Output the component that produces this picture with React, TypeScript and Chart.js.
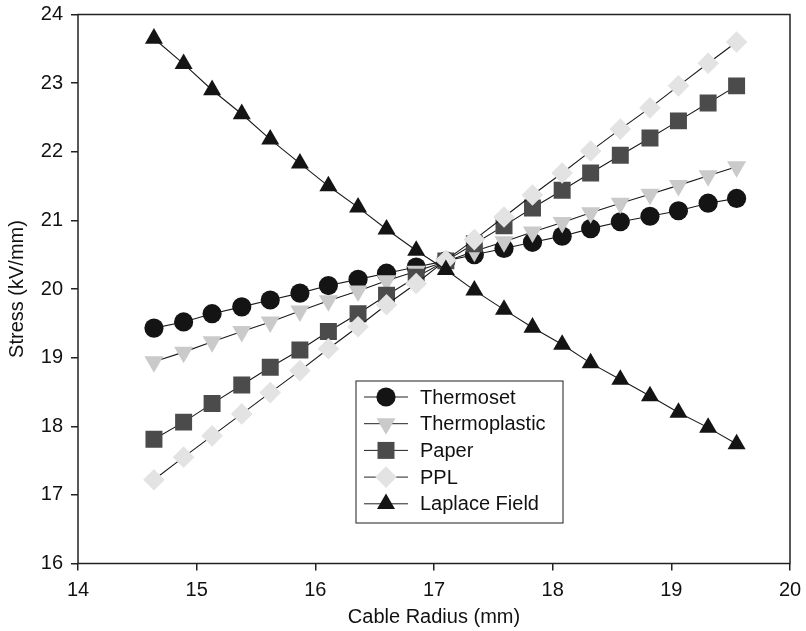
import React, { useEffect, useRef } from 'react';
import { Chart, registerables } from 'chart.js';
import { drawPoint } from 'chart.js/helpers';

Chart.register(...registerables);

const radius = [14.64, 14.89, 15.13, 15.38, 15.62, 15.87, 16.11, 16.36, 16.6, 16.85, 17.1, 17.34, 17.59, 17.83, 18.08, 18.32, 18.57, 18.82, 19.06, 19.31, 19.55];
const thermoset = [19.43, 19.52, 19.64, 19.74, 19.84, 19.94, 20.05, 20.14, 20.23, 20.32, 20.41, 20.5, 20.59, 20.68, 20.77, 20.88, 20.98, 21.06, 21.14, 21.25, 21.32];
const thermoplastic = [18.94, 19.08, 19.23, 19.38, 19.52, 19.68, 19.83, 19.97, 20.12, 20.26, 20.4, 20.55, 20.69, 20.83, 20.97, 21.11, 21.25, 21.38, 21.51, 21.65, 21.78];
const paper = [17.81, 18.06, 18.33, 18.6, 18.86, 19.11, 19.38, 19.64, 19.91, 20.17, 20.41, 20.66, 20.92, 21.18, 21.44, 21.69, 21.95, 22.2, 22.45, 22.71, 22.96];
const ppl = [17.22, 17.55, 17.86, 18.18, 18.49, 18.81, 19.13, 19.45, 19.77, 20.08, 20.42, 20.72, 21.05, 21.37, 21.69, 22.01, 22.33, 22.64, 22.96, 23.29, 23.6];
const laplace = [23.65, 23.28, 22.9, 22.55, 22.18, 21.83, 21.5, 21.19, 20.87, 20.56, 20.28, 19.98, 19.7, 19.44, 19.19, 18.92, 18.68, 18.44, 18.2, 17.98, 17.74];

const seriesLabels = ['Thermoset', 'Thermoplastic', 'Paper', 'PPL', 'Laplace Field'];
const seriesValues = [thermoset, thermoplastic, paper, ppl, laplace];
const seriesColors = ['#141414', '#c9cac9', '#4b4b4b', '#e3e3e3', '#141414'];
const seriesStyles = ['circle', 'triangle', 'rect', 'rectRot', 'triangle'];
const seriesRotation = [0, 180, 0, 0, 0];
const seriesRadius = [9.6, 11, 12, 10.8, 10.4];

const xTitle = 'Cable Radius (mm)';
const yTitle = 'Stress (kV/mm)';
const FONT = "'Liberation Sans', Arial, Helvetica, sans-serif";

const framePlugin = {
  id: 'frame',
  afterDatasetsDraw(chart: any) {
    const { ctx, chartArea } = chart;
    ctx.save();
    ctx.strokeStyle = '#222';
    ctx.lineWidth = 1.5;
    ctx.strokeRect(chartArea.left, chartArea.top, chartArea.right - chartArea.left, chartArea.bottom - chartArea.top);
    ctx.restore();
  },
};

const legendPlugin = {
  id: 'boxLegend',
  afterDraw(chart: any) {
    const { ctx } = chart;
    const bx = 356, by = 381, bw = 207, bh = 142;
    ctx.save();
    ctx.fillStyle = '#fff';
    ctx.fillRect(bx, by, bw, bh);
    ctx.strokeStyle = '#444';
    ctx.lineWidth = 1.2;
    ctx.strokeRect(bx, by, bw, bh);
    chart.data.datasets.forEach((ds: any, i: number) => {
      const y = 397 + i * 26.7;
      ctx.strokeStyle = '#222';
      ctx.lineWidth = 1;
      ctx.beginPath();
      ctx.moveTo(364, y);
      ctx.lineTo(408, y);
      ctx.stroke();
      ctx.fillStyle = ds.pointBackgroundColor;
      ctx.strokeStyle = ds.pointBackgroundColor;
      drawPoint(ctx, { pointStyle: ds.pointStyle, radius: ds.pointRadius, rotation: ds.pointRotation, borderWidth: 0 }, 386, y);
      ctx.fillStyle = '#111';
      ctx.font = `20px ${FONT}`;
      ctx.textAlign = 'left';
      ctx.textBaseline = 'middle';
      ctx.fillText(ds.label, 420, y + 1);
    });
    ctx.restore();
  },
};

export default function App() {
  const ref = useRef<HTMLCanvasElement>(null);
  useEffect(() => {
    if (!ref.current) return;
    const datasets = seriesLabels.map((label, i) => ({
      label,
      data: radius.map((r, j) => ({ x: r, y: seriesValues[i][j] })),
      borderColor: '#1a1a1a',
      borderWidth: 1.1,
      pointStyle: seriesStyles[i],
      pointRotation: seriesRotation[i],
      pointRadius: seriesRadius[i],
      pointBackgroundColor: seriesColors[i],
      pointBorderColor: seriesColors[i],
      pointBorderWidth: 0,
      fill: false,
      tension: 0,
      order: seriesLabels.length - i,
    }));
    const chart = new Chart(ref.current, {
      type: 'line',
      data: { datasets },
      plugins: [framePlugin, legendPlugin],
      options: {
        animation: false,
        responsive: false,
        layout: { padding: { top: 14.5, right: 16, left: 0, bottom: 0 } },
        plugins: { legend: { display: false }, tooltip: { enabled: false } },
        scales: {
          x: {
            type: 'linear',
            min: 14,
            max: 20,
            ticks: { stepSize: 1, color: '#111', font: { size: 20, family: FONT }, padding: 8, maxRotation: 0 },
            grid: { drawOnChartArea: false, drawTicks: true, tickLength: 7, color: '#222', lineWidth: 1.5 },
            border: { display: false },
            title: { display: true, text: xTitle, color: '#111', font: { size: 20, family: FONT }, padding: { top: 0, bottom: 2 } },
            afterFit: (s: any) => { s.height = 67.5; s.paddingLeft = 0; s.paddingRight = 0; },
          },
          y: {
            type: 'linear',
            min: 16,
            max: 24,
            ticks: { stepSize: 1, color: '#111', font: { size: 20, family: FONT }, padding: 8 },
            grid: { drawOnChartArea: false, drawTicks: true, tickLength: 7, color: '#222', lineWidth: 1.5 },
            border: { display: false },
            title: { display: true, text: yTitle, color: '#111', font: { size: 20, family: FONT }, padding: { top: 5, bottom: 0 } },
            afterFit: (s: any) => { s.width = 78; s.paddingTop = 0; s.paddingBottom = 0; },
          },
        },
      },
    } as any);
    return () => chart.destroy();
  }, []);
  return (
    <div style={{ position: 'fixed', left: 0, top: 0, width: 806, height: 631, background: '#fff' }}>
      <canvas ref={ref} width={806} height={631} style={{ display: 'block', width: 806, height: 631 }} />
    </div>
  );
}
